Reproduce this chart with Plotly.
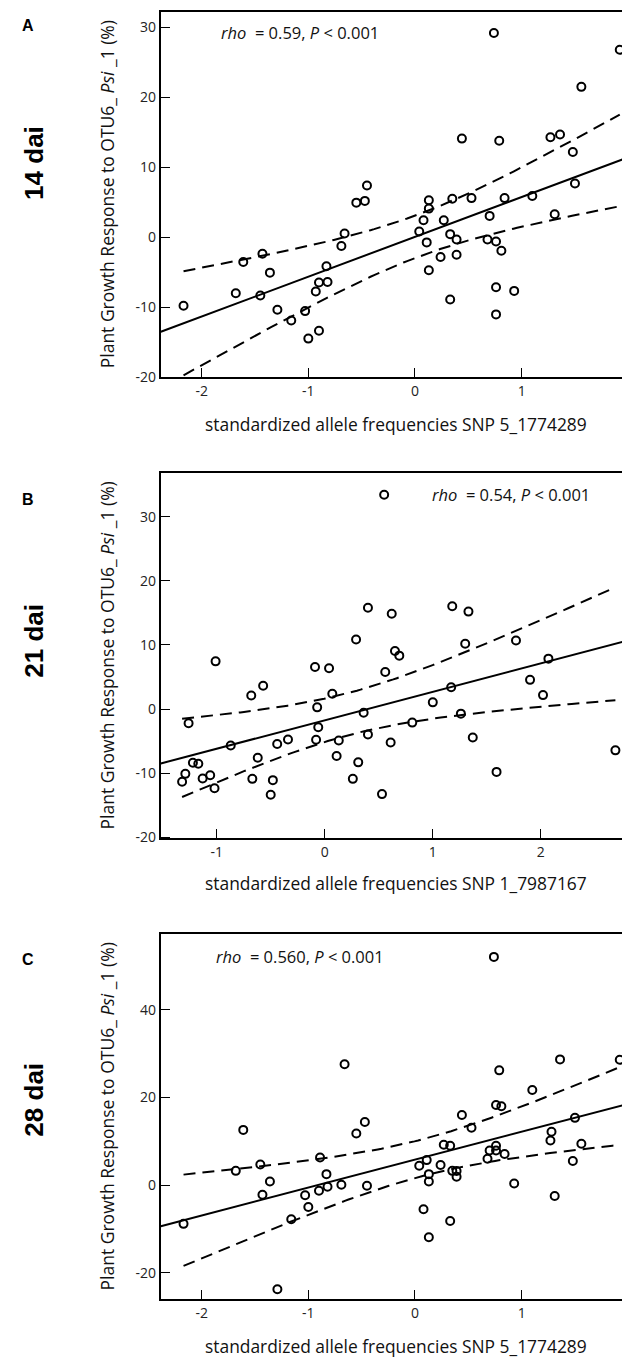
import numpy as np
import plotly.graph_objects as go

W, H = 630, 1361

# ---------------- data ----------------
panel_letters = ["A", "B", "C"]
panel_days = ["14 dai", "21 dai", "28 dai"]
x_titles = ["standardized allele frequencies SNP 5_1774289",
            "standardized allele frequencies SNP 1_7987167",
            "standardized allele frequencies SNP 5_1774289"]
y_title = "Plant Growth Response to OTU6_ <i>Psi</i> _1 (%)"
stats_text = ["<i>rho</i>  = 0.59, <i>P</i> &lt; 0.001",
              "<i>rho</i>  = 0.54, <i>P</i> &lt; 0.001",
              "<i>rho</i>  = 0.560, <i>P</i> &lt; 0.001"]

a_x = [0.74, 1.92, 1.56, 0.44, 0.79, 1.27, 1.36, 1.48, 1.50, -0.45, -0.55, -0.47,
       0.13, 0.35, 0.53, 0.84, 1.10, 1.31, 0.13, 0.70, 0.08, 0.27, 0.04, -0.66,
       -0.69, 0.11, 0.33, 0.39, 0.68, 0.76, 0.81, 0.24, 0.39, 0.13, -1.43, -1.61,
       -1.36, -0.83, -1.68, -1.45, -0.90, -0.82, -0.93, -2.17, -1.29, -1.03, -1.16,
       -1.00, -0.90, 0.33, 0.76, 0.93, 0.76]
a_y = [29.2, 26.8, 21.5, 14.1, 13.8, 14.3, 14.7, 12.2, 7.7, 7.4, 4.95, 5.2,
       5.3, 5.5, 5.6, 5.6, 5.9, 3.3, 4.1, 3.06, 2.44, 2.44, 0.83, 0.55,
       -1.25, -0.73, 0.45, -0.31, -0.31, -0.59, -1.92, -2.82, -2.49, -4.72, -2.35, -3.53,
       -5.05, -4.15, -7.99, -8.32, -6.47, -6.38, -7.75, -9.79, -10.36, -10.55, -11.88,
       -14.48, -13.35, -8.89, -7.14, -7.66, -11.02]

b_x = [0.55, 0.40, 0.62, 1.18, 1.33, 0.29, 1.30, 1.77, 0.65, 0.69, 2.07, -1.01,
       -0.09, 0.04, 0.56, -0.57, -0.68, 0.07, 1.90, 2.02, 1.17, 1.00, -0.07, 0.36,
       1.26, -1.26, -0.06, 0.81, -0.87, -0.44, -0.34, -0.08, 0.13, 0.40, 0.61, 1.37,
       2.69, -0.62, 0.11, 0.31, -1.22, -1.17, -1.29, -1.32, -1.13, -1.06, -1.02,
       -0.67, -0.48, -0.50, 0.26, 0.53, 1.59]
b_y = [33.44, 15.81, 14.88, 16.03, 15.2, 10.85, 10.19, 10.7, 9.05, 8.33, 7.86, 7.44,
       6.57, 6.36, 5.79, 3.62, 2.12, 2.38, 4.55, 2.17, 3.41, 1.04, 0.26, -0.57,
       -0.72, -2.22, -2.84, -2.12, -5.69, -5.47, -4.75, -4.8, -4.91, -3.98, -5.21, -4.44,
       -6.45, -7.6, -7.34, -8.32, -8.37, -8.53, -10.12, -11.36, -10.85, -10.33, -12.35,
       -10.9, -11.1, -13.38, -10.9, -13.28, -9.81]

c_x = [0.74, -0.66, 0.79, 1.36, 1.92, 1.10, 0.76, 0.81, 0.44, -0.47, -0.55, -1.61,
       0.53, 1.50, 1.28, 1.27, 1.56, 0.27, 0.33, 0.76, 0.70, 0.76, 0.84, 0.68,
       1.48, -0.89, 0.11, 0.04, 0.24, -1.45, -1.68, 0.35, 0.39, -0.83, 0.13, 0.39,
       -1.36, 0.13, 0.93, -0.69, -0.45, -0.82, -0.90, -1.03, -1.43, 1.31, -1.00,
       0.08, -1.16, 0.33, -2.17, 0.13, -1.29]
c_y = [52.1, 27.6, 26.2, 28.7, 28.6, 21.7, 18.3, 18.0, 16.0, 14.4, 11.8, 12.6,
       13.1, 15.35, 12.2, 10.2, 9.45, 9.2, 9.0, 9.0, 7.9, 7.9, 7.1, 6.0,
       5.5, 6.3, 5.7, 4.4, 4.6, 4.7, 3.25, 3.25, 3.2, 2.5, 2.5, 1.9,
       0.83, 0.83, 0.38, 0.07, -0.15, -0.38, -1.3, -2.3, -2.2, -2.5, -5.0,
       -5.5, -7.8, -8.2, -8.85, -11.9, -23.8]

# fit lines as drawn in the figure
fit_intercept = [0.06, -1.76, 5.81]
fit_slope = [5.69, 4.44, 6.38]
ci_k = [22.0, 24.0, 30.5]   # t * s of the 95 % confidence band

x_ranges = [[-2.383, 2.019], [-1.517, 2.828], [-2.383, 2.019]]
y_ranges = [[-20.0, 32.2], [-20.2, 36.8], [-26.1, 57.3]]
x_ticks = [[-2, -1, 0, 1, 2], [-1, 0, 1, 2], [-2, -1, 0, 1, 2]]
x_ticklabels = [["-2", "-1", "0", "1", "2"], ["-1", "0", "1", "2"], ["-2", "-1", "0", "1", "2"]]
y_ticks = [[-20, -10, 0, 10, 20, 30], [-20, -10, 0, 10, 20, 30], [-20, 0, 20, 40]]
y_ticklabels = [["-20", "-10", "0", "10", "20", "30"], ["-20", "-10", "0", "10", "20", "30"],
                ["-20", "0", "20", "40"]]

# pixel layout of the three plotting frames (left, right, top, bottom)
frames = [(153.3, 624.3, 4.0, 371.7),
          (153.3, 624.3, 468.3, 836.0),
          (153.3, 624.3, 932.3, 1300.0)]
letter_y = [18, 495, 958]
days_y = [156, 637, 1099]
xtitle_y = [419, 881, 1347]
stat_pos = [(211.7, 25), (423.3, 490), (206.7, 955)]

FONT = "Open Sans"


def px(xp):
    return xp / W


def py(yp):
    return 1 - yp / H


fig = go.Figure()
datasets = [(a_x, a_y), (b_x, b_y), (c_x, c_y)]
annotations = []

for i, (xs, ys) in enumerate(datasets):
    xs = np.array(xs, float)
    ys = np.array(ys, float)
    n = len(xs)
    xbar = xs.mean()
    sxx = np.sum((xs - xbar) ** 2)
    xa = "x" if i == 0 else f"x{i+1}"
    ya = "y" if i == 0 else f"y{i+1}"

    xl = np.array(x_ranges[i])
    fig.add_trace(go.Scatter(x=xl, y=fit_intercept[i] + fit_slope[i] * xl, mode="lines",
                             line=dict(color="black", width=2),
                             xaxis=xa, yaxis=ya, showlegend=False, hoverinfo="skip"))
    xc = np.linspace(xs.min(), xs.max(), 120)
    half = ci_k[i] * np.sqrt(1 / n + (xc - xbar) ** 2 / sxx)
    fit = fit_intercept[i] + fit_slope[i] * xc
    for sign in (1, -1):
        fig.add_trace(go.Scatter(x=xc, y=fit + sign * half, mode="lines",
                                 line=dict(color="black", width=2, dash="12px,7px"),
                                 xaxis=xa, yaxis=ya, showlegend=False, hoverinfo="skip"))
    fig.add_trace(go.Scatter(x=xs, y=ys, mode="markers",
                             marker=dict(symbol="circle-open", size=8, color="black",
                                         line=dict(width=2, color="black")),
                             xaxis=xa, yaxis=ya, showlegend=False))

    l, r, t, b = frames[i]
    axis_common = dict(showline=True, mirror=True, linecolor="black", linewidth=2,
                       ticks="inside", ticklen=9, tickwidth=1, tickcolor="black",
                       showgrid=False, zeroline=False,
                       tickfont=dict(family=FONT, size=14, color="#222"))
    fig.layout[("xaxis" if i == 0 else f"xaxis{i+1}")] = dict(
        domain=[px(l), px(r)], range=x_ranges[i], tickvals=x_ticks[i],
        ticktext=x_ticklabels[i], anchor=ya, **axis_common)
    fig.layout[("yaxis" if i == 0 else f"yaxis{i+1}")] = dict(
        domain=[py(b), py(t)], range=y_ranges[i], tickvals=y_ticks[i],
        ticktext=y_ticklabels[i], anchor=xa, **axis_common)

    common = dict(xref="paper", yref="paper", showarrow=False,
                  xanchor="center", yanchor="middle")
    annotations.append(dict(text=f"<b>{panel_letters[i]}</b>", x=px(20), y=py(letter_y[i]),
                            font=dict(family="Liberation Sans", size=16, color="black"),
                            **common))
    annotations.append(dict(text=f"<b>{panel_days[i]}</b>", x=px(26), y=py(days_y[i]),
                            textangle=-90,
                            font=dict(family="Liberation Sans", size=26, color="black"),
                            **common))
    annotations.append(dict(text=y_title, x=px(99), y=py((t + b) / 2), textangle=-90,
                            font=dict(family=FONT, size=17.5, color="#111"), **common))
    annotations.append(dict(text=x_titles[i], x=px((l + r) / 2), y=py(xtitle_y[i]),
                            font=dict(family=FONT, size=17.4, color="#111"), **common))
    sx, sy = stat_pos[i]
    annotations.append(dict(text=stats_text[i], x=px(sx), y=py(sy), xref="paper",
                            yref="paper", showarrow=False, xanchor="left", yanchor="middle",
                            font=dict(family=FONT, size=16.5, color="#111")))

fig.update_layout(width=W, height=H, margin=dict(l=0, r=0, t=0, b=0),
                  paper_bgcolor="white", plot_bgcolor="white",
                  annotations=annotations)

fig.write_html("out.html")
